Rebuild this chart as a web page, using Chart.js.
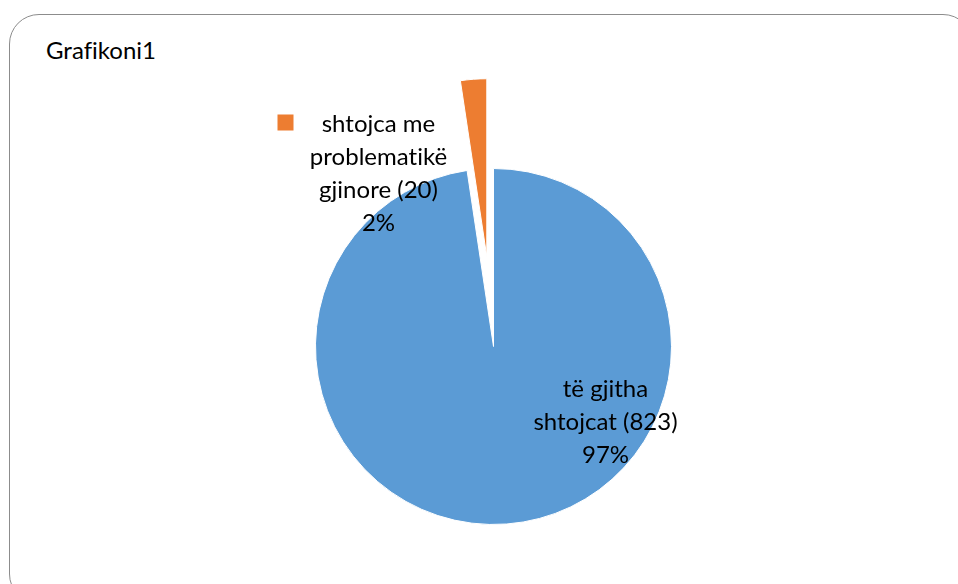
<!DOCTYPE html>
<html>
<head>
<meta charset="utf-8">
<script src="https://cdn.jsdelivr.net/npm/chart.js@4.4.1/dist/chart.umd.min.js"></script>
<style>
  html, body { margin: 0; padding: 0; background: #fff; overflow: hidden; }
  #wrap { position: relative; width: 958px; height: 584px; }
  #frame {
    position: absolute; left: 9px; top: 14px; width: 964px; height: 590px;
    border: 1px solid #8c8c8c; border-radius: 30px; box-sizing: border-box;
  }
  #title {
    position: absolute; left: 46px; top: 35px;
    font-family: Lato, "Open Sans", sans-serif; font-size: 24px; color: #000;
    font-variant-ligatures: none;
  }
  canvas { position: absolute; left: 0; top: 0; }
</style>
</head>
<body>
<div id="wrap">
  <div id="frame"></div>
  <div id="title">Grafikoni1</div>
  <canvas id="grafikoni" width="958" height="584"></canvas>
</div>
<script>
// të dhënat
const kategorite = ["të gjitha shtojcat", "shtojca me problematikë gjinore"];
const vlerat = [823, 20];
const perqindjet = ["97%", "2%"];
const ngjyrat = ["#5B9BD5", "#ED7D31"];

// copa e shkëputur (indeksi) dhe sa larg
const copaJashte = 1;
const largesia = 90;

const shkeputPlugin = {
  id: 'shkeput',
  afterDatasetsUpdate(chart) {
    const arc = chart.getDatasetMeta(0).data[copaJashte];
    if (!arc) return;
    const mid = (arc.startAngle + arc.endAngle) / 2;
    arc.x += Math.cos(mid) * largesia;
    arc.y += Math.sin(mid) * largesia;
  }
};

const etiketatPlugin = {
  id: 'etiketat',
  afterDatasetsDraw(chart) {
    const ctx = chart.ctx;
    const meta = chart.getDatasetMeta(0);
    const cx = meta.data[0].x, cy = meta.data[0].y;
    ctx.save();
    ctx.font = '24px Lato, "Open Sans", sans-serif';
    if ('letterSpacing' in ctx) ctx.letterSpacing = '0.01px'; // pa ligatura
    ctx.fillStyle = '#000';
    ctx.textAlign = 'center';
    ctx.textBaseline = 'middle';
    const lh = 33;
    // etiketa portokalli
    const l1 = ["shtojca me", "problematikë", "gjinore (" + vlerat[1] + ")", perqindjet[1]];
    l1.forEach((t, i) => ctx.fillText(t, cx - 115, cy - 222 + i * lh));
    ctx.fillStyle = ngjyrat[1];
    ctx.fillRect(cx - 216, cy - 232, 16, 16);
    // etiketa blu
    ctx.fillStyle = '#000';
    const l0 = ["të gjitha", "shtojcat (" + vlerat[0] + ")", perqindjet[0]];
    l0.forEach((t, i) => ctx.fillText(t, cx + 112, cy + 43 + i * lh));
    ctx.restore();
  }
};

new Chart(document.getElementById("grafikoni"), {
  type: 'pie',
  data: {
    labels: kategorite,
    datasets: [{
      data: vlerat,
      backgroundColor: ngjyrat,
      borderColor: '#ffffff',
      borderWidth: 1
    }]
  },
  options: {
    responsive: false,
    devicePixelRatio: 1,
    animation: false,
    radius: 178,
    layout: { padding: { left: 29, right: 0, top: 109, bottom: 0 } },
    plugins: {
      legend: { display: false },
      tooltip: { enabled: false }
    }
  },
  plugins: [shkeputPlugin, etiketatPlugin]
});
</script>
</body>
</html>
